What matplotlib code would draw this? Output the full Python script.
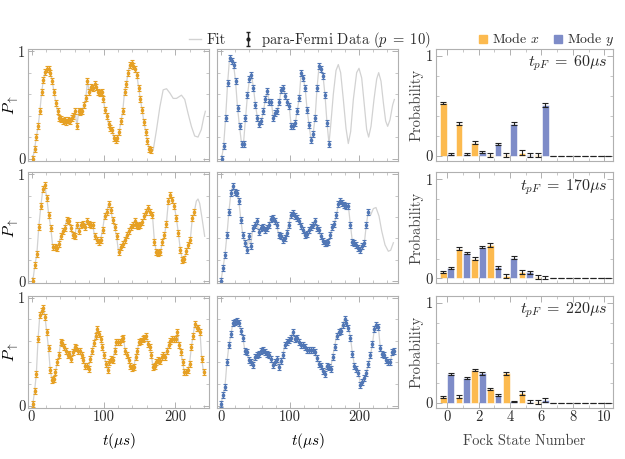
import numpy as np
import matplotlib
matplotlib.use("Agg")
import matplotlib.pyplot as plt
from matplotlib.lines import Line2D
from matplotlib.ticker import MultipleLocator, FixedLocator, NullFormatter

plt.rcParams['font.family'] = 'serif'
plt.rcParams['font.serif'] = ['cmr10']
plt.rcParams['mathtext.fontset'] = 'cm'
plt.rcParams['axes.unicode_minus'] = False

# ---- time traces: P_up vs t (us), uniform sampling grids ----
# row 1
tl_p = [0.0, 0.09, 0.20, 0.30, 0.44, 0.62, 0.73, 0.81, 0.83, 0.83,
        0.80, 0.72, 0.62, 0.52, 0.44, 0.38, 0.37, 0.35, 0.36, 0.34,
        0.36, 0.35, 0.38, 0.40, 0.44, 0.30, 0.44, 0.43, 0.44, 0.50,
        0.56, 0.72, 0.62, 0.67, 0.66, 0.69, 0.67, 0.62, 0.61, 0.62,
        0.55, 0.45, 0.40, 0.32, 0.28, 0.27, 0.19, 0.17, 0.19, 0.25,
        0.35, 0.44, 0.62, 0.69, 0.80, 0.87, 0.89, 0.86, 0.83, 0.78,
        0.66, 0.55, 0.45, 0.34, 0.25, 0.16, 0.09, 0.08]
tm_p = [0.0, 0.12, 0.38, 0.70, 0.94, 0.91, 0.875, 0.72, 0.47, 0.30,
        0.14, 0.14, 0.375, 0.59, 0.74, 0.78, 0.66, 0.50, 0.38, 0.32,
        0.35, 0.44, 0.55, 0.625, 0.53, 0.53, 0.375, 0.42, 0.44, 0.53,
        0.64, 0.66, 0.58, 0.53, 0.49, 0.30, 0.30, 0.33, 0.44, 0.56,
        0.80, 0.75, 0.66, 0.45, 0.31, 0.17, 0.23, 0.375, 0.66, 0.86,
        0.83, 0.77, 0.59, 0.33, 0.14]
# row 2
ml_p = [0.0, 0.15, 0.25, 0.51, 0.70, 0.86, 0.90, 0.78, 0.62, 0.50,
        0.32, 0.32, 0.31, 0.35, 0.42, 0.47, 0.50, 0.575, 0.56, 0.50,
        0.43, 0.42, 0.53, 0.47, 0.53, 0.535, 0.51, 0.56, 0.535, 0.53,
        0.53, 0.42, 0.39, 0.37, 0.39, 0.48, 0.61, 0.65, 0.72, 0.67,
        0.575, 0.51, 0.42, 0.27, 0.32, 0.35, 0.39, 0.43, 0.47, 0.51,
        0.53, 0.56, 0.53, 0.52, 0.53, 0.555, 0.61, 0.65, 0.69, 0.65,
        0.62, 0.37, 0.27, 0.26, 0.27, 0.37, 0.43, 0.54, 0.75, 0.81,
        0.76, 0.70, 0.59, 0.45, 0.29, 0.20, 0.21, 0.28, 0.34, 0.39,
        0.59, 0.65]
mm_p = [0.0, 0.12, 0.245, 0.43, 0.65, 0.83, 0.89, 0.84, 0.83, 0.75,
        0.575, 0.43, 0.355, 0.29, 0.42, 0.33, 0.50, 0.53, 0.56, 0.465,
        0.50, 0.51, 0.48, 0.50, 0.53, 0.58, 0.59, 0.56, 0.53, 0.43,
        0.42, 0.39, 0.40, 0.45, 0.53, 0.62, 0.64, 0.61, 0.59, 0.56,
        0.52, 0.48, 0.43, 0.44, 0.48, 0.51, 0.53, 0.56, 0.50, 0.48,
        0.42, 0.38, 0.355, 0.36, 0.37, 0.43, 0.51, 0.54, 0.62, 0.72,
        0.75, 0.73, 0.71, 0.70, 0.70, 0.53, 0.37, 0.355, 0.34, 0.31,
        0.29, 0.33, 0.355, 0.53, 0.65]
# row 3
bl_p = [0.01, 0.135, 0.29, 0.62, 0.84, 0.88, 0.91, 0.82, 0.68, 0.53,
        0.33, 0.235, 0.245, 0.31, 0.40, 0.47, 0.59, 0.58, 0.54, 0.51,
        0.47, 0.48, 0.43, 0.50, 0.54, 0.53, 0.51, 0.51, 0.465, 0.42,
        0.37, 0.37, 0.34, 0.43, 0.51, 0.58, 0.65, 0.71, 0.66, 0.62,
        0.54, 0.465, 0.39, 0.33, 0.40, 0.43, 0.42, 0.51, 0.59, 0.59,
        0.59, 0.62, 0.63, 0.51, 0.465, 0.42, 0.37, 0.35, 0.36, 0.45,
        0.51, 0.59, 0.60, 0.62, 0.63, 0.65, 0.57, 0.54, 0.47, 0.36,
        0.37, 0.40, 0.42, 0.41, 0.45, 0.465, 0.45, 0.51, 0.56, 0.60,
        0.62, 0.62, 0.62, 0.68, 0.56, 0.50, 0.40, 0.31, 0.31, 0.33,
        0.39, 0.54, 0.65, 0.755, 0.72, 0.72, 0.68, 0.43, 0.31]
bm_p = [0.01, 0.10, 0.17, 0.40, 0.56, 0.66, 0.77, 0.78, 0.785, 0.77,
        0.69, 0.63, 0.51, 0.495, 0.42, 0.40, 0.38, 0.45, 0.465, 0.48,
        0.51, 0.52, 0.495, 0.48, 0.465, 0.43, 0.38, 0.40, 0.43, 0.36,
        0.41, 0.465, 0.56, 0.59, 0.61, 0.63, 0.68, 0.62, 0.63, 0.59,
        0.56, 0.56, 0.54, 0.52, 0.52, 0.52, 0.52, 0.495, 0.44, 0.39,
        0.37, 0.32, 0.29, 0.37, 0.36, 0.34, 0.45, 0.54, 0.65, 0.68,
        0.69, 0.75, 0.80, 0.77, 0.72, 0.63, 0.48, 0.37, 0.34, 0.30,
        0.195, 0.22, 0.26, 0.30, 0.39, 0.465, 0.57, 0.71, 0.75, 0.73,
        0.53, 0.48, 0.465, 0.42, 0.40, 0.40, 0.50, 0.51]

# (first time, step) of each trace
tl_grid = (1.8, 2.45)
tm_grid = (1.0, 2.88)
ml_grid = (1.8, 2.77)
mm_grid = (0.0, 2.885)
bl_grid = (1.8, 2.42)
bm_grid = (0.0, 2.887)

# fit continuation past the data
tl_fit_t = [169.1, 173.7, 178.3, 182.9, 187.6, 192.2, 196.8, 201.4, 208.3, 212.9,
            217.5, 222.1, 226.7, 231.3, 235.9, 239.2, 241.5]
tl_fit_p = [0.08, 0.27, 0.48, 0.64, 0.65, 0.61, 0.56, 0.56, 0.59, 0.55,
            0.42, 0.30, 0.21, 0.20, 0.27, 0.38, 0.44]
tm_fit_t = [158.9, 162.8, 166.7, 170.0, 173.4, 177.3, 181.2, 184.5, 187.9, 191.8,
            196.6, 200.0, 203.9, 207.7, 211.1, 214.0, 217.4, 221.7, 225.6, 228.5,
            231.9, 235.3, 238.6, 241.5, 244.9, 248.8, 251.2]
tm_fit_p = [0.30, 0.60, 0.82, 0.875, 0.80, 0.55, 0.28, 0.14, 0.25, 0.55,
            0.80, 0.84, 0.75, 0.50, 0.27, 0.20, 0.30, 0.55, 0.74, 0.80,
            0.72, 0.52, 0.35, 0.30, 0.36, 0.50, 0.55]
ml_fit_t = [229.0, 231.3, 233.6, 236.9, 240.6]
ml_fit_p = [0.75, 0.77, 0.73, 0.59, 0.42]
mm_fit_t = [216.9, 220.8, 224.6, 229.0, 232.9, 237.7, 242.5, 245.9, 249.8]
mm_fit_p = [0.62, 0.68, 0.69, 0.61, 0.47, 0.34, 0.28, 0.29, 0.36]

data_err = 0.028

# ---- Fock state distributions ----
fock = np.arange(11)
times_label = ['60', '170', '220']
mode_x = [[0.53, 0.32, 0.13, 0.005, 0.005, 0.03, 0.005, 0, 0, 0, 0],
          [0.063, 0.30, 0.20, 0.34, 0.027, 0.067, 0.017, 0, 0, 0, 0],
          [0.055, 0.06, 0.325, 0.137, 0.293, 0.098, 0.005, 0, 0, 0, 0]]
mode_y = [[0.02, 0.02, 0.035, 0.12, 0.32, 0.01, 0.51, 0, 0, 0, 0],
          [0.10, 0.257, 0.317, 0.11, 0.21, 0.063, 0.005, 0, 0, 0, 0],
          [0.29, 0.25, 0.293, 0.08, 0.013, 0.01, 0.03, 0, 0, 0, 0]]
err_x = [[0.012, 0.015, 0.015, 0.02, 0.02, 0.025, 0.02, 0, 0, 0, 0],
         [0.012, 0.015, 0.015, 0.02, 0.02, 0.02, 0.02, 0, 0, 0, 0],
         [0.012, 0.015, 0.012, 0.012, 0.015, 0.02, 0.02, 0, 0, 0, 0]]
err_y = [[0.01, 0.01, 0.012, 0.012, 0.015, 0.02, 0.02, 0, 0, 0, 0],
         [0.01, 0.01, 0.012, 0.015, 0.012, 0.015, 0.015, 0, 0, 0, 0],
         [0.01, 0.012, 0.012, 0.01, 0.008, 0.015, 0.018, 0, 0, 0, 0]]

ORANGE = '#e6a023'
BLUE = '#5076b5'
ORANGE_BAR = '#fcba4f'
BLUE_BAR = '#7e8cc8'
FIT = '#d2d2d2'
FRAME = '#b0b0b0'
LABEL = '#2a2a2a'

W, H = 625, 459
fig = plt.figure(figsize=(6.25, 4.59), dpi=100)
rows_px = [(49, 160.7), (172.3, 283.3), (295.7, 407.7)]
cols_px = [(28.3, 209.3), (217.5, 398), (436, 613.3)]


def add(r, c):
    top, bot = rows_px[r]
    left, right = cols_px[c]
    return fig.add_axes([left / W, 1 - bot / H, (right - left) / W, (bot - top) / H])


def style(ax):
    for s in ax.spines.values():
        s.set_color(FRAME)
        s.set_linewidth(0.8)
    ax.tick_params(which='both', direction='in', top=True, right=True,
                   colors=FRAME, labelcolor=LABEL, labelsize=10.5, pad=2)
    ax.tick_params(which='major', length=4, width=0.7)
    ax.tick_params(which='minor', length=2, width=0.5)
    ax.yaxis.set_major_locator(FixedLocator([0, 1]))
    ax.yaxis.set_minor_locator(MultipleLocator(0.2))


traces = [[(tl_p, tl_grid, tl_fit_t, tl_fit_p), (tm_p, tm_grid, tm_fit_t, tm_fit_p)],
          [(ml_p, ml_grid, ml_fit_t, ml_fit_p), (mm_p, mm_grid, mm_fit_t, mm_fit_p)],
          [(bl_p, bl_grid, [], []), (bm_p, bm_grid, [], [])]]
xlims = [(-4.5, 247), (-5, 256.5)]
colors = [ORANGE, BLUE]

first_ax = None
for r in range(3):
    for c in range(2):
        p, (t0, dt), ft, fp = traces[r][c]
        t = t0 + dt * np.arange(len(p))
        ax = add(r, c)
        if first_ax is None:
            first_ax = ax
        style(ax)
        ax.plot(list(t) + ft, list(p) + fp, color=FIT, lw=0.9, zorder=1)
        ax.errorbar(t, p, yerr=data_err, fmt='o', ms=1.6, color=colors[c],
                    elinewidth=1.0, capsize=1.7, capthick=0.8, zorder=2)
        ax.set_xlim(*xlims[c])
        ax.set_ylim(-0.02, 1.02)
        ax.xaxis.set_major_locator(FixedLocator([0, 100, 200]))
        ax.xaxis.set_minor_locator(MultipleLocator(20))
        if r < 2:
            ax.xaxis.set_major_formatter(NullFormatter())
        else:
            ax.set_xlabel(r'$t(\mu s)$', fontsize=11, labelpad=5)
        if c == 1:
            ax.yaxis.set_major_formatter(NullFormatter())
        else:
            ax.set_ylabel(r'$P_\uparrow$', fontsize=11.5, labelpad=-2)

for r in range(3):
    ax = add(r, 2)
    style(ax)
    ax.bar(fock - 0.24, mode_x[r], width=0.42, color=ORANGE_BAR,
           edgecolor='white', lw=0.4, zorder=1)
    ax.bar(fock + 0.24, mode_y[r], width=0.42, color=BLUE_BAR,
           edgecolor='white', lw=0.4, zorder=1)
    ax.errorbar(fock - 0.24, mode_x[r], yerr=err_x[r], fmt='none', ecolor='#222222',
                elinewidth=0.8, capsize=2.2, capthick=0.8, zorder=3)
    ax.errorbar(fock + 0.24, mode_y[r], yerr=err_y[r], fmt='none', ecolor='#222222',
                elinewidth=0.8, capsize=2.2, capthick=0.8, zorder=3)
    ax.set_xlim(-0.7, 10.56)
    ax.set_ylim(-0.05, 1.07)
    ax.xaxis.set_major_locator(FixedLocator([0, 2, 4, 6, 8, 10]))
    ax.xaxis.set_minor_locator(MultipleLocator(1))
    ax.set_ylabel('Probability', fontsize=10.5, labelpad=2, color='#444444')
    ax.text(0.97, 0.87, r'$t_{pF}\;=\;' + times_label[r] + r'\mu s$', transform=ax.transAxes,
            ha='right', va='center', fontsize=11.5, color=LABEL)
    if r < 2:
        ax.xaxis.set_major_formatter(NullFormatter())
    else:
        ax.set_xlabel('Fock State Number', fontsize=10.3, labelpad=7, color='#444444')

# legends along the top
h_fit = Line2D([], [], color=FIT, lw=1.0)
h_dat = first_ax.errorbar([np.nan], [np.nan], yerr=[0.1], fmt='o', ms=2,
                          color='#222222', elinewidth=1, capsize=1.7)
fig.legend([h_fit, h_dat], [r'Fit', r'para-Fermi Data ($p\;=\;10$)'], loc='center',
           bbox_to_anchor=(0.495, 0.913), ncol=2, frameon=False, fontsize=10.5,
           handlelength=0.85, columnspacing=1.1, handletextpad=0.4, labelcolor=LABEL)
h_x = Line2D([], [], marker='s', ls='none', color=ORANGE_BAR, ms=6)
h_y = Line2D([], [], marker='s', ls='none', color=BLUE_BAR, ms=6)
fig.legend([h_x, h_y], ['Mode $x$', 'Mode $y$'], loc='center',
           bbox_to_anchor=(0.874, 0.913), ncol=2, frameon=False, fontsize=10,
           handlelength=0.6, columnspacing=1.0, handletextpad=0.35, labelcolor=LABEL)

fig.savefig('out.png', dpi=100)
